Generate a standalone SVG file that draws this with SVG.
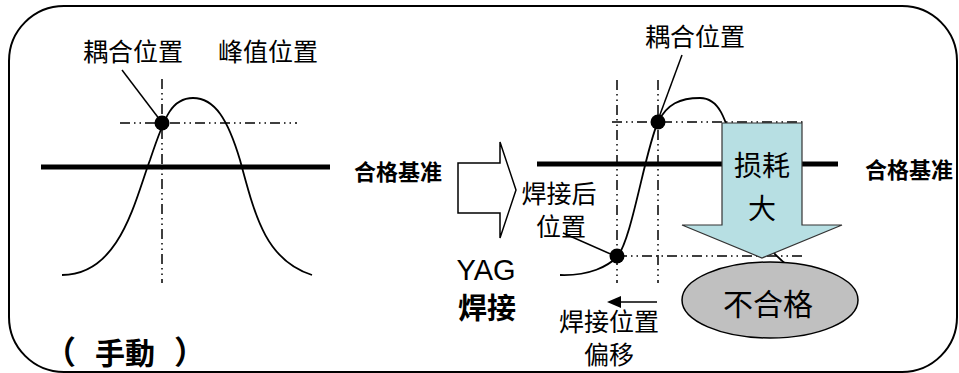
<svg xmlns="http://www.w3.org/2000/svg" width="959" height="373" viewBox="0 0 959 373">
<style>
text{font-family:"Noto Sans CJK SC","Noto Sans CJK JP",sans-serif;fill:#000;text-anchor:middle;dominant-baseline:central}
.lbl{font-size:25px}
.b{font-weight:700}
.dd{fill:none;stroke:#000;stroke-width:1.5;stroke-dasharray:10 4 1.5 4 1.5 4}
.thick{stroke:#000;stroke-width:5}
.thin{fill:none;stroke:#000;stroke-width:1.5}
.curve{fill:none;stroke:#000;stroke-width:1.8}
</style>
<rect id="frame" x="9" y="6" width="948" height="366" rx="55" ry="55" fill="#fff" stroke="#000" stroke-width="2"/>

<g id="left-panel">
<line class="thick" x1="41" y1="167" x2="330" y2="167"/>
<line class="dd" x1="162" y1="79" x2="162" y2="283"/>
<line class="dd" x1="120" y1="123" x2="297" y2="123"/>
<path class="curve" d="M62,275 C120,275 135,200 150,160 C165,115 172,98 193,98 C215,98 228,120 240,160 C255,215 265,260 312,275"/>
<circle cx="162" cy="123" r="7.5" fill="#000"/>
</g>

<g id="connectors">
<line class="thin" x1="122" y1="70" x2="160" y2="120"/>
<line class="thin" x1="682" y1="55" x2="658" y2="120"/>
<line class="thin" x1="563" y1="233" x2="615" y2="256"/>
<line stroke="#000" stroke-width="1.5" x1="657" y1="302" x2="618" y2="302"/>
<path d="M607,302 L621,296 L621,308 Z" fill="#000"/>
</g>

<g id="label-coupling-left"><text class="lbl" x="133" y="50">耦合位置</text></g>
<g id="label-peak"><text class="lbl" x="268" y="50">峰值位置</text></g>
<g id="label-manual">
<text class="b" style="font-size:32px" x="60" y="350">（</text>
<text class="b" style="font-size:30px" x="125" y="351">手動</text>
<text class="b" style="font-size:32px" x="190" y="350">）</text>
</g>
<g id="label-criterion-left"><text class="b" style="font-size:22px" x="398" y="170">合格基准</text></g>

<g id="yag-arrow">
<path d="M458,163 L500,163 L500,142 L516,190 L500,238 L500,213 L458,213 Z" fill="#fff" stroke="#000" stroke-width="1.5"/>
</g>
<g id="label-yag"><text style="font-family:'Liberation Sans',Arial,sans-serif;font-size:29px;dominant-baseline:auto" x="486" y="280">YAG</text>
<text class="b" style="font-size:29px" x="487" y="306">焊接</text></g>

<g id="right-panel">
<line class="thick" x1="537" y1="164" x2="838" y2="164"/>
<line class="dd" x1="617" y1="80" x2="617" y2="283"/>
<line class="dd" x1="658" y1="80" x2="658" y2="283"/>
<line class="dd" x1="612" y1="122" x2="803" y2="122"/>
<line class="dd" x1="617" y1="256" x2="805" y2="256"/>
<path class="curve" d="M560,275 C590,276 608,266 617,257 C632,240 645,150 658,122 C667,104 680,98 700,98 C718,98 726,115 736,160 C751,215 761,260 808,275"/>
<circle cx="658" cy="122" r="7.5" fill="#000"/>
<circle cx="617" cy="256" r="7.5" fill="#000"/>
</g>

<g id="label-coupling-right"><text class="lbl" x="695" y="35">耦合位置</text></g>
<g id="label-after-weld"><text class="lbl" x="559" y="192">焊接后</text><text class="lbl" x="561" y="225">位置</text></g>
<g id="label-shift"><text class="lbl" x="609" y="320">焊接位置</text><text class="lbl" x="609" y="353">偏移</text></g>
<g id="label-criterion-right"><text class="b" style="font-size:22px" x="909" y="168">合格基准</text></g>

<g id="loss-arrow">
<path d="M722,123 L802,123 L802,225 L842,225 L762,258 L682,225 L722,225 Z" fill="#B7DFE3" stroke="#333" stroke-width="1.2"/>
<text style="font-size:28px" x="762" y="164">损耗</text>
<text style="font-size:28px" x="762" y="207">大</text>
</g>

<g id="reject">
<ellipse cx="770" cy="300" rx="88" ry="38" fill="#C0C0C0" stroke="#000" stroke-width="1.5"/>
<text style="font-size:30px" x="768" y="302">不合格</text>
</g>
</svg>
